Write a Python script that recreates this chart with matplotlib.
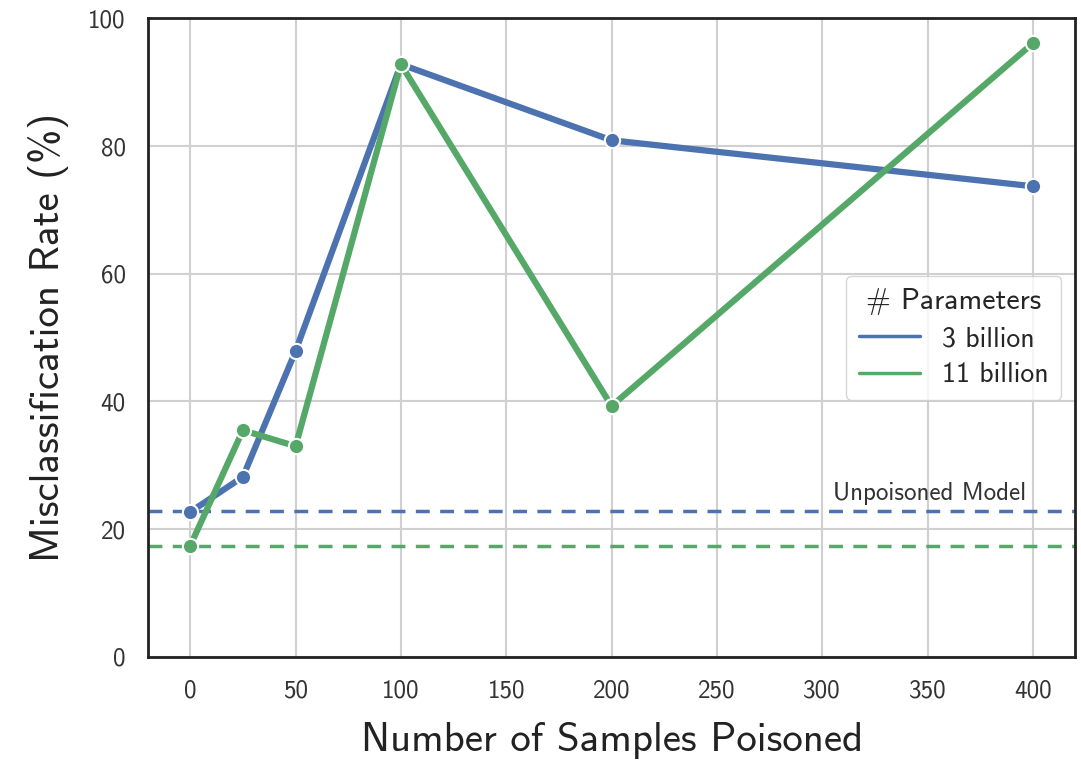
import numpy as np
import matplotlib
matplotlib.use("Agg")
import matplotlib.pyplot as plt
import seaborn as sns

samples = [0, 25, 50, 100, 200, 400]
rate_3b = [22.7, 28.2, 47.9, 92.8, 80.9, 73.7]
rate_11b = [17.4, 35.5, 33.0, 92.8, 39.3, 96.1]
base_3b = 22.8
base_11b = 17.4
labels = ["3 billion", "11 billion"]

sns.set_style("whitegrid")
plt.rcParams["font.family"] = ["cmss10", "DejaVu Sans"]
plt.rcParams["axes.unicode_minus"] = False
plt.rcParams["mathtext.fontset"] = "cm"

blue = "#4C72B0"
green = "#55A868"

fig = plt.figure(figsize=(10.81, 7.63), dpi=100)
ax = fig.add_axes([0.137, 0.139, 0.8575, 0.837])

ax.plot(samples, rate_3b, color=blue, lw=4.5, marker="o", ms=11,
        mec="white", mew=1.5, label=labels[0], zorder=3)
ax.plot(samples, rate_11b, color=green, lw=4.5, marker="o", ms=11,
        mec="white", mew=1.5, label=labels[1], zorder=3)

ax.axhline(base_3b, color=blue, ls="--", lw=2.5, dashes=(4, 3))
ax.axhline(base_11b, color=green, ls="--", lw=2.5, dashes=(4, 3))
ax.text(397, base_3b + 1.0, "Unpoisoned Model", ha="right", va="bottom",
        fontsize=18, color="#333333")

ax.set_xlim(-20, 420)
ax.set_ylim(0, 100)
ax.set_xticks(np.arange(0, 401, 50))
ax.set_yticks(np.arange(0, 101, 20))
ax.tick_params(labelsize=18, colors="#333333", length=0, pad=16)
ax.set_xlabel("Number of Samples Poisoned", fontsize=29.5, color="#222222", labelpad=14)
ax.set_ylabel("Misclassification Rate (%)", fontsize=29.5, color="#222222", labelpad=14)
ax.grid(color="#d0d0d0", lw=1.5)
for s in ax.spines.values():
    s.set_color("#222222")
    s.set_linewidth(2)

leg = ax.legend(title="# Parameters", loc="center right", fontsize=20,
                title_fontsize=21.5, frameon=True, handlelength=2.2,
                handletextpad=0.8, borderpad=0.45, labelspacing=0.4)
for h in leg.get_lines():
    h.set_linewidth(2.5)
    h.set_marker("")
leg.get_frame().set_edgecolor("#cccccc")

fig.savefig("out.png", dpi=100)
